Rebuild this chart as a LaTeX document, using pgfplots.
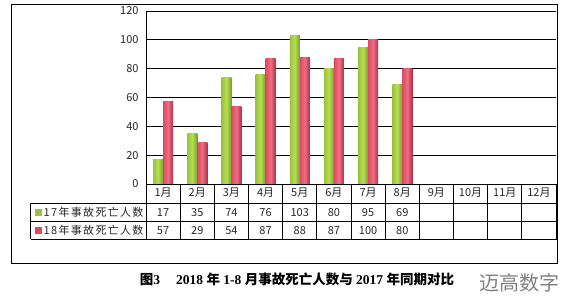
\documentclass[border=0pt]{standalone}
\usepackage{pgfplots}
\usepackage{pgfplotstable}
\pgfplotsset{compat=1.18}
\usepackage{fontspec}
\setmainfont{Liberation Serif}
\newfontfamily\cjk{Noto Sans CJK SC}
\newcommand\C[1]{{\cjk\bfseries #1}}

\definecolor{gL}{HTML}{BADC58}
\definecolor{gM}{HTML}{98C43A}
\definecolor{gD}{HTML}{72A024}
\definecolor{rL}{HTML}{EE6E84}
\definecolor{rM}{HTML}{DC4A62}
\definecolor{rD}{HTML}{B43048}

% monthly accident deaths, 2017 (a) and 2018 (b)
\pgfplotstableread{
m a b
1 17 57
2 35 29
3 74 54
4 76 87
5 103 88
6 80 87
7 95 100
8 69 80
}\data

\newcommand\tabfont{\cjk\fontsize{11}{13}\selectfont}

\begin{document}
\begin{tikzpicture}
\useasboundingbox (0pt,0pt) rectangle (568pt,-298pt);
\begin{axis}[
  scale only axis, width=410pt, height=173pt,
  at={(146pt,-184pt)}, anchor=south west,
  xmin=0.5, xmax=12.5, ymin=0, ymax=120,
  ytick={0,20,...,120}, ymajorgrids,
  grid style={black, line width=0.8pt},
  xtick={1,...,12},
  xticklabels={1月,2月,3月,4月,5月,6月,7月,8月,9月,10月,11月,12月},
  major tick length=0pt,
  axis line style={draw=none},
  clip=false,
  /pgf/number format/assume math mode=true,
  tick label style={font=\tabfont, text=black!85},
  yticklabel style={xshift=-4pt},
]
% one path per bar, so that each bar carries its own cylinder shading
\pgfplotsinvokeforeach{1,...,8}{%
  \addplot[ybar, bar width=10pt, bar shift=-5pt, draw=none,
    left color=gM, right color=gD, middle color=gL,
    restrict x to domain=#1:#1] table[x=m,y=a]{\data};
  \addplot[ybar, bar width=10pt, bar shift=5pt, draw=none,
    left color=rM, right color=rD, middle color=rL,
    restrict x to domain=#1:#1] table[x=m,y=b]{\data};
}

% data table cells
\pgfplotsinvokeforeach{0,...,7}{%
  \pgfplotstablegetelem{#1}{a}\of\data
  \edef\cell{\noexpand\node[font=\noexpand\tabfont, text=black!85] at (axis cs:\the\numexpr#1+1\relax,-19.8) {\pgfplotsretval};}\cell
  \pgfplotstablegetelem{#1}{b}\of\data
  \edef\cell{\noexpand\node[font=\noexpand\tabfont, text=black!85] at (axis cs:\the\numexpr#1+1\relax,-32.3) {\pgfplotsretval};}\cell
}
\end{axis}

\begin{scope}[x=1pt, y=1pt]
  % outer frame
  \draw[line width=0.8pt] (11.5,-4.5) rectangle (557,-263);
  % value axis line
  \draw[line width=0.8pt] (146,-11) -- (146,-184);
  % table rules
  \draw[line width=0.8pt] (146,-184) -- (556.5,-184);
  \foreach \yy in {-203.3,-221.7,-239.3}
    \draw[line width=0.8pt] (30.5,\yy) -- (556.5,\yy);
  \foreach \k in {0,...,12}
    \draw[line width=0.8pt] (146+34.1667*\k,-184) -- (146+34.1667*\k,-239.3);
  \draw[line width=0.8pt] (30.5,-203.3) -- (30.5,-239.3);
  % series keys
  \fill[gM] (35,-209.3) rectangle (41.7,-216);
  \fill[rM] (35,-227.3) rectangle (41.7,-234);
  \node[anchor=west, inner sep=0pt, font=\tabfont, text=black!85] at (43.5,-212.5)
    {\addfontfeature{LetterSpace=12}17年事故死亡人数};
  \node[anchor=west, inner sep=0pt, font=\tabfont, text=black!85] at (43.5,-230.5)
    {\addfontfeature{LetterSpace=12}18年事故死亡人数};
  % caption
  \node[font=\fontsize{13.5}{15}\selectfont\bfseries] at (297,-279)
    {\C{图}3\hspace{16pt}2018 \C{年} 1-8 \C{月事故死亡人数与} 2017 \C{年同期对比}};
  \node[text=black!50, font=\cjk\fontsize{20}{22}\selectfont] at (519,-283) {迈高数字};
\end{scope}
\end{tikzpicture}
\end{document}
